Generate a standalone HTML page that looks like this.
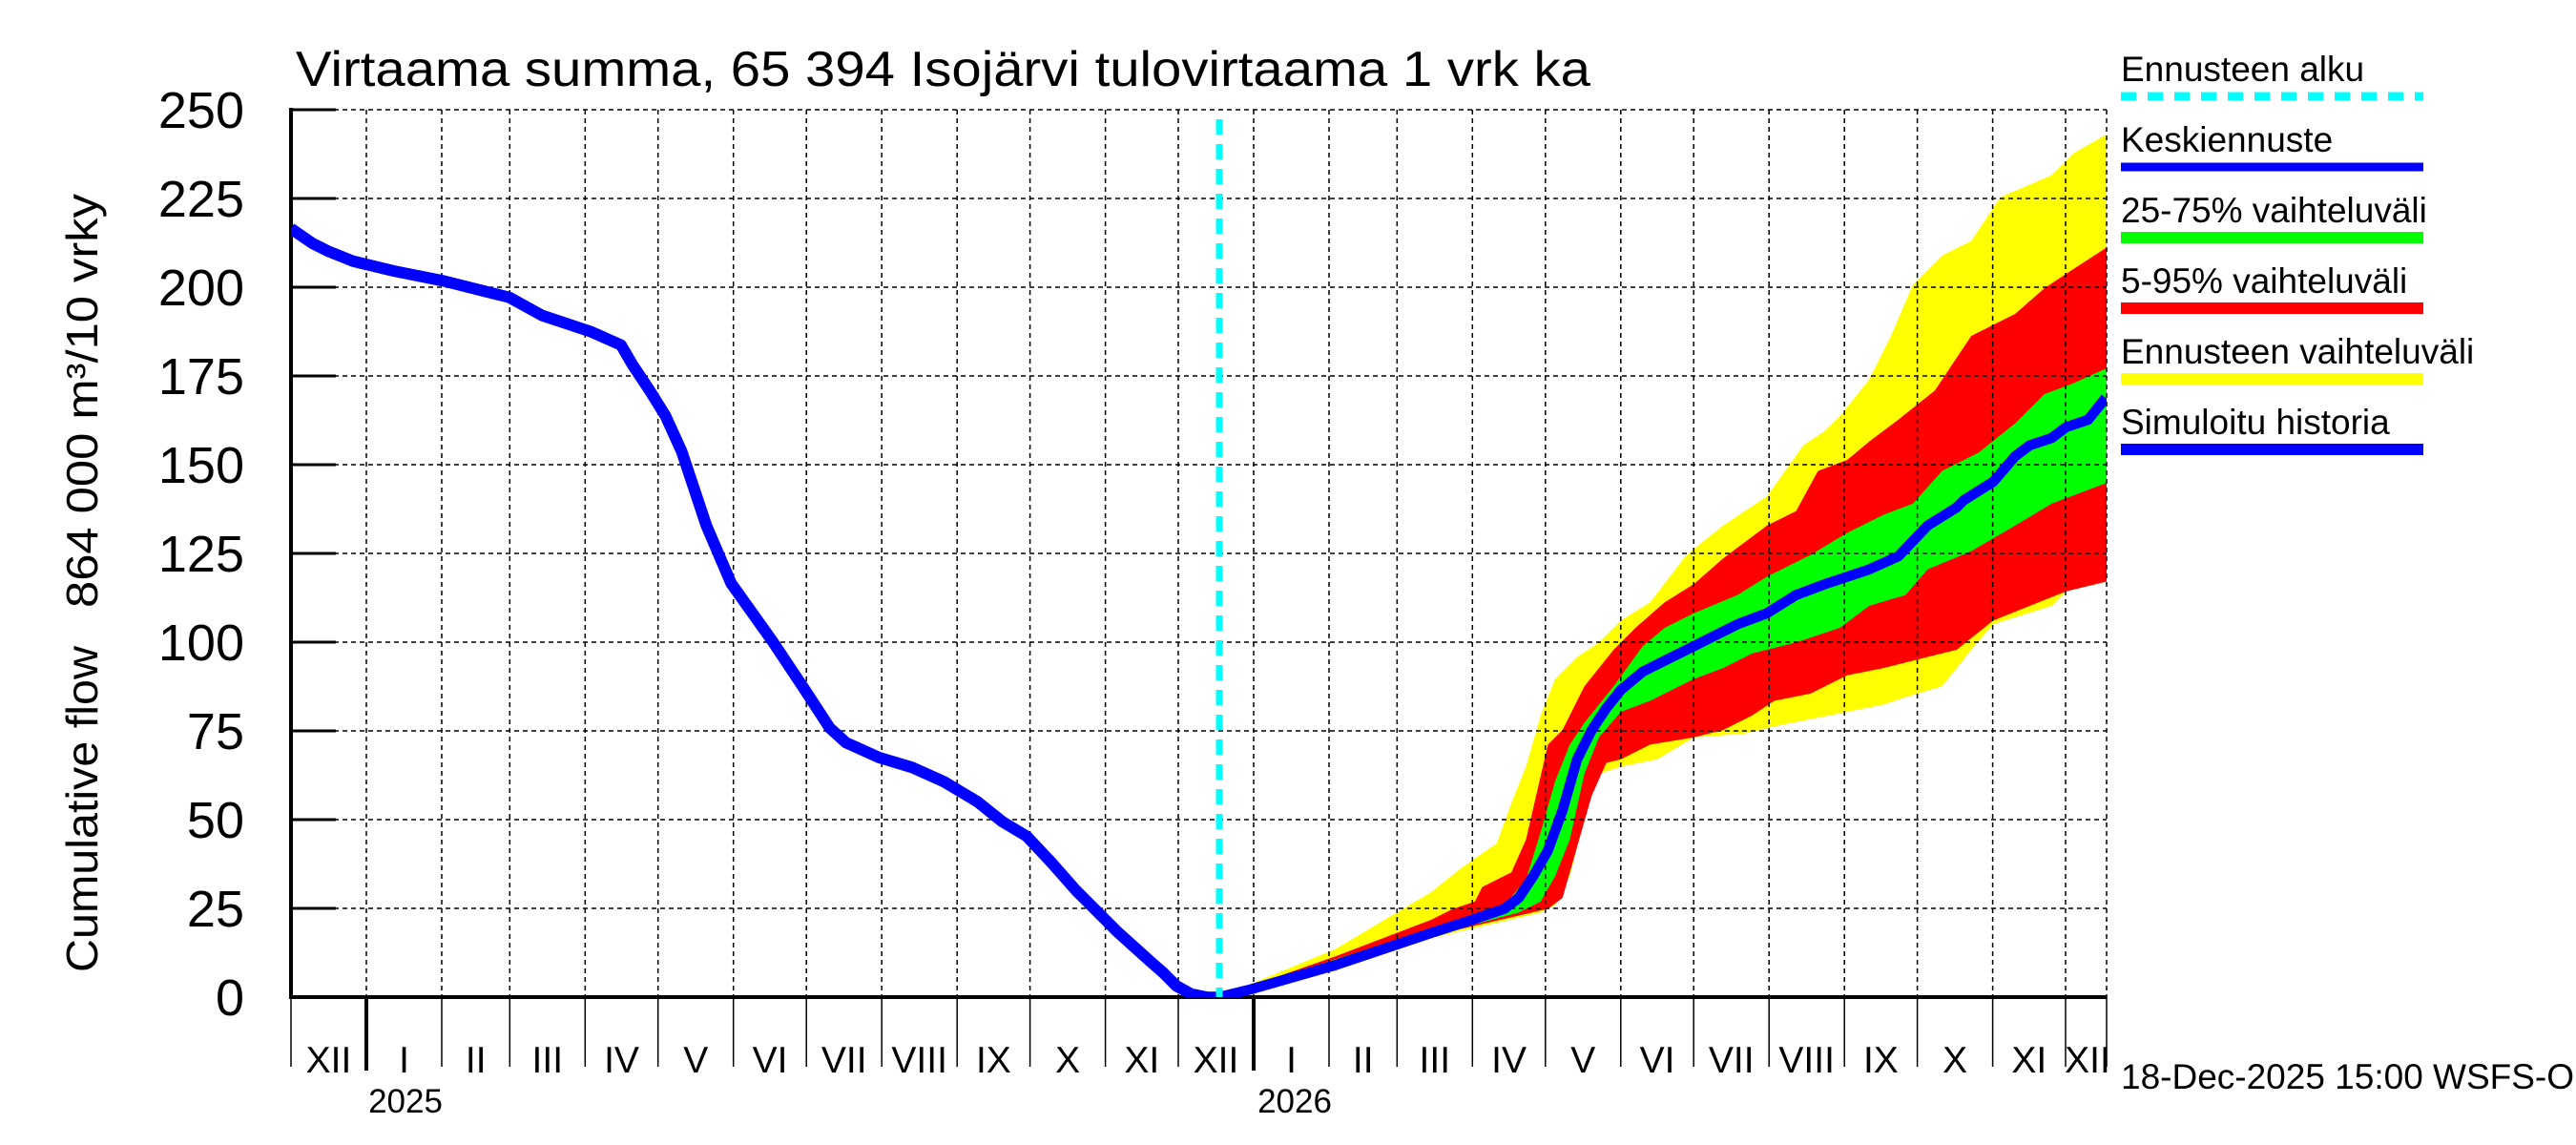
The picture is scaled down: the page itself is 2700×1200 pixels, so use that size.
<!DOCTYPE html>
<html><head><meta charset="utf-8"><style>
html,body{margin:0;padding:0;background:#fff;}
svg{display:block;}
text{font-family:"Liberation Sans",Arial,sans-serif;fill:#000;}
</style></head><body>
<svg width="2700" height="1200" viewBox="0 0 2700 1200" xmlns="http://www.w3.org/2000/svg">
<defs><clipPath id="pc"><rect x="305" y="115" width="1903" height="930"/></clipPath></defs>
<rect width="2700" height="1200" fill="#fff"/>
<text x="310" y="90" font-size="52" textLength="1357" lengthAdjust="spacingAndGlyphs">Virtaama summa, 65 394 Isojärvi tulovirtaama 1 vrk ka</text>

<!-- bands -->
<g clip-path="url(#pc)">
<g transform="translate(1500,0) scale(0.7651)">
<polygon fill="#ffff00" points="-291,1366 -131,1300 0,1222 40,1190 90,1155 110,1100 130,1050 150,980 170,930 200,900 230,880 260,850 300,825 350,760 400,720 460,680 510,610 540,590 560,570 600,520 630,460 660,390 700,350 740,330 780,270 850,240 880,210 924,185 950,185 950,797 924,797 870,810 850,830 770,855 740,890 700,940 650,955 620,965 570,975 520,985 470,995 430,1005 360,1010 310,1040 260,1050 230,1060 210,1120 190,1200 170,1240 150,1250 0,1285 -131,1320"/>
<polygon fill="#ff0000" points="-291,1366 -131,1310 0,1260 30,1245 60,1235 70,1215 110,1195 130,1150 160,1020 180,1000 210,940 250,890 280,860 320,825 360,800 400,765 460,720 500,700 530,645 570,630 600,605 640,575 690,535 740,460 800,430 840,395 870,375 924,340 950,340 950,797 924,797 870,810 820,830 770,850 720,890 660,905 620,915 570,925 520,950 470,960 440,980 400,1000 360,1010 300,1020 260,1040 240,1045 220,1090 200,1160 180,1230 160,1245 0,1282 -131,1318"/>
<polygon fill="#00ff00" points="-291,1366 -131,1314 0,1272 100,1240 130,1205 150,1140 170,1070 190,1020 210,990 250,940 290,885 320,860 360,840 420,815 460,790 520,760 570,730 620,705 660,690 700,645 750,620 800,580 840,540 880,525 924,505 950,505 950,662 924,662 850,690 800,720 740,755 680,780 650,815 600,830 560,860 500,880 440,895 400,915 360,930 300,960 260,975 230,1010 210,1060 190,1150 170,1200 150,1235 120,1250 0,1282 -131,1316"/>
</g>
</g>

<!-- grid -->
<g stroke="#000" stroke-width="1.5" stroke-dasharray="5,4" fill="none">
<line x1="305" y1="952" x2="2208" y2="952"/><line x1="305" y1="859" x2="2208" y2="859"/>
<line x1="305" y1="766" x2="2208" y2="766"/><line x1="305" y1="673" x2="2208" y2="673"/>
<line x1="305" y1="580" x2="2208" y2="580"/><line x1="305" y1="487" x2="2208" y2="487"/>
<line x1="305" y1="394" x2="2208" y2="394"/><line x1="305" y1="301" x2="2208" y2="301"/>
<line x1="305" y1="208" x2="2208" y2="208"/><line x1="305" y1="115" x2="2208" y2="115"/>
<line x1="384" y1="115" x2="384" y2="1045"/><line x1="463" y1="115" x2="463" y2="1045"/>
<line x1="534.3" y1="115" x2="534.3" y2="1045"/><line x1="613.3" y1="115" x2="613.3" y2="1045"/>
<line x1="689.7" y1="115" x2="689.7" y2="1045"/><line x1="768.7" y1="115" x2="768.7" y2="1045"/>
<line x1="845.2" y1="115" x2="845.2" y2="1045"/><line x1="924.2" y1="115" x2="924.2" y2="1045"/>
<line x1="1003.2" y1="115" x2="1003.2" y2="1045"/><line x1="1079.6" y1="115" x2="1079.6" y2="1045"/>
<line x1="1158.6" y1="115" x2="1158.6" y2="1045"/><line x1="1235" y1="115" x2="1235" y2="1045"/>
<line x1="1314" y1="115" x2="1314" y2="1045"/><line x1="1393" y1="115" x2="1393" y2="1045"/>
<line x1="1464.3" y1="115" x2="1464.3" y2="1045"/><line x1="1543.3" y1="115" x2="1543.3" y2="1045"/>
<line x1="1619.8" y1="115" x2="1619.8" y2="1045"/><line x1="1698.8" y1="115" x2="1698.8" y2="1045"/>
<line x1="1775.2" y1="115" x2="1775.2" y2="1045"/><line x1="1854.2" y1="115" x2="1854.2" y2="1045"/>
<line x1="1933.2" y1="115" x2="1933.2" y2="1045"/><line x1="2009.6" y1="115" x2="2009.6" y2="1045"/>
<line x1="2088.6" y1="115" x2="2088.6" y2="1045"/><line x1="2165" y1="115" x2="2165" y2="1045"/>
<line x1="2208" y1="115" x2="2208" y2="1045"/>
</g>

<!-- axes & ticks -->
<g stroke="#000" fill="none">
<line x1="305" y1="113" x2="305" y2="1047" stroke-width="4"/>
<line x1="303" y1="1045" x2="2208" y2="1045" stroke-width="4"/>
<g stroke-width="3">
<line x1="305" y1="952" x2="352" y2="952"/><line x1="305" y1="859" x2="352" y2="859"/>
<line x1="305" y1="766" x2="352" y2="766"/><line x1="305" y1="673" x2="352" y2="673"/>
<line x1="305" y1="580" x2="352" y2="580"/><line x1="305" y1="487" x2="352" y2="487"/>
<line x1="305" y1="394" x2="352" y2="394"/><line x1="305" y1="301" x2="352" y2="301"/>
<line x1="305" y1="208" x2="352" y2="208"/><line x1="305" y1="115" x2="352" y2="115"/>
</g>
<g stroke-width="1.5">
<line x1="305" y1="1045" x2="305" y2="1118"/>
<line x1="463" y1="1045" x2="463" y2="1118"/><line x1="534.3" y1="1045" x2="534.3" y2="1118"/>
<line x1="613.3" y1="1045" x2="613.3" y2="1118"/><line x1="689.7" y1="1045" x2="689.7" y2="1118"/>
<line x1="768.7" y1="1045" x2="768.7" y2="1118"/><line x1="845.2" y1="1045" x2="845.2" y2="1118"/>
<line x1="924.2" y1="1045" x2="924.2" y2="1118"/><line x1="1003.2" y1="1045" x2="1003.2" y2="1118"/>
<line x1="1079.6" y1="1045" x2="1079.6" y2="1118"/><line x1="1158.6" y1="1045" x2="1158.6" y2="1118"/>
<line x1="1235" y1="1045" x2="1235" y2="1118"/>
<line x1="1393" y1="1045" x2="1393" y2="1118"/><line x1="1464.3" y1="1045" x2="1464.3" y2="1118"/>
<line x1="1543.3" y1="1045" x2="1543.3" y2="1118"/><line x1="1619.8" y1="1045" x2="1619.8" y2="1118"/>
<line x1="1698.8" y1="1045" x2="1698.8" y2="1118"/><line x1="1775.2" y1="1045" x2="1775.2" y2="1118"/>
<line x1="1854.2" y1="1045" x2="1854.2" y2="1118"/><line x1="1933.2" y1="1045" x2="1933.2" y2="1118"/>
<line x1="2009.6" y1="1045" x2="2009.6" y2="1118"/><line x1="2088.6" y1="1045" x2="2088.6" y2="1118"/>
<line x1="2165" y1="1045" x2="2165" y2="1118"/><line x1="2208" y1="1045" x2="2208" y2="1118"/>
</g>
<line x1="384" y1="1045" x2="384" y2="1122" stroke-width="4"/>
<line x1="1314" y1="1045" x2="1314" y2="1122" stroke-width="4"/>
</g>

<!-- y labels -->
<g font-size="54" text-anchor="end">
<text x="256" y="1064">0</text><text x="256" y="971">25</text><text x="256" y="878">50</text>
<text x="256" y="785">75</text><text x="256" y="692">100</text><text x="256" y="599">125</text>
<text x="256" y="506">150</text><text x="256" y="413">175</text><text x="256" y="320">200</text>
<text x="256" y="227">225</text><text x="256" y="134">250</text>
</g>
<text transform="translate(102,1019) rotate(-90)" font-size="46" textLength="342" lengthAdjust="spacingAndGlyphs">Cumulative flow</text>
<text transform="translate(102,637) rotate(-90)" font-size="46" textLength="434" lengthAdjust="spacingAndGlyphs">864 000 m³/10 vrky</text>

<!-- month labels -->
<g font-size="39" text-anchor="middle">
<text x="344.5" y="1124">XII</text><text x="423.5" y="1124">I</text><text x="498.7" y="1124">II</text>
<text x="573.8" y="1124">III</text><text x="651.5" y="1124">IV</text><text x="729.2" y="1124">V</text>
<text x="807" y="1124">VI</text><text x="884.7" y="1124">VII</text><text x="963.7" y="1124">VIII</text>
<text x="1041.4" y="1124">IX</text><text x="1119.1" y="1124">X</text><text x="1196.8" y="1124">XI</text>
<text x="1274.5" y="1124">XII</text><text x="1353.5" y="1124">I</text><text x="1428.7" y="1124">II</text>
<text x="1503.8" y="1124">III</text><text x="1581.6" y="1124">IV</text><text x="1659.3" y="1124">V</text>
<text x="1737" y="1124">VI</text><text x="1814.7" y="1124">VII</text><text x="1893.7" y="1124">VIII</text>
<text x="1971.4" y="1124">IX</text><text x="2049.1" y="1124">X</text><text x="2126.8" y="1124">XI</text>
<text x="2188" y="1124">XII</text>
</g>
<text x="425" y="1166" font-size="35" text-anchor="middle">2025</text>
<text x="1357" y="1166" font-size="35" text-anchor="middle">2026</text>

<!-- history line -->
<g clip-path="url(#pc)">
<polyline fill="none" stroke="#0000ff" stroke-linejoin="round" transform="scale(1.722)" style="stroke-width:7" points="177,139 190,148 200,153 215,159 240,165 270,171 310,181 330,192 360,202 378,210 385,222 395,237 405,253 415,275 430,320 445,355 470,390 490,420 505,443 515,452 535,461 555,467 575,476 595,488 610,500 625,509 640,525 655,542 670,557 680,567 690,576 700,585 708,592 716,600 725,605 735,607 741,607"/>
<polyline fill="none" stroke="#0000ff" stroke-width="14" stroke-linejoin="round" transform="translate(1500,0) scale(0.7651)" points="-291,1366 -250,1356 -131,1322 0,1278 50,1262 100,1245 120,1230 140,1200 160,1165 180,1110 200,1040 220,1000 240,970 260,945 290,920 330,900 380,875 420,855 460,840 500,815 540,800 600,780 640,762 680,720 720,695 730,685 770,660 800,625 820,610 850,600 870,585 900,575 924,545"/>
</g>
<!-- forecast start -->
<line x1="1278" y1="125" x2="1278" y2="1045" stroke="#00ffff" stroke-width="7" stroke-dasharray="16,10"/>

<!-- legend -->
<g font-size="37">
<text x="2223" y="85">Ennusteen alku</text>
<text x="2223" y="159">Keskiennuste</text>
<text x="2223" y="233">25-75% vaihteluväli</text>
<text x="2223" y="307">5-95% vaihteluväli</text>
<text x="2223" y="381">Ennusteen vaihteluväli</text>
<text x="2223" y="455">Simuloitu historia</text>
</g>
<line x1="2223" y1="101" x2="2540" y2="101" stroke="#00ffff" stroke-width="9" stroke-dasharray="16,12"/>
<line x1="2223" y1="175" x2="2540" y2="175" stroke="#0000ff" stroke-width="9"/>
<line x1="2223" y1="249" x2="2540" y2="249" stroke="#00ff00" stroke-width="12"/>
<line x1="2223" y1="323" x2="2540" y2="323" stroke="#ff0000" stroke-width="12"/>
<line x1="2223" y1="397" x2="2540" y2="397" stroke="#ffff00" stroke-width="12"/>
<line x1="2223" y1="471" x2="2540" y2="471" stroke="#0000ff" stroke-width="12"/>
<text x="2223" y="1141" font-size="37">18-Dec-2025 15:00 WSFS-O</text>
</svg>
</body></html>
